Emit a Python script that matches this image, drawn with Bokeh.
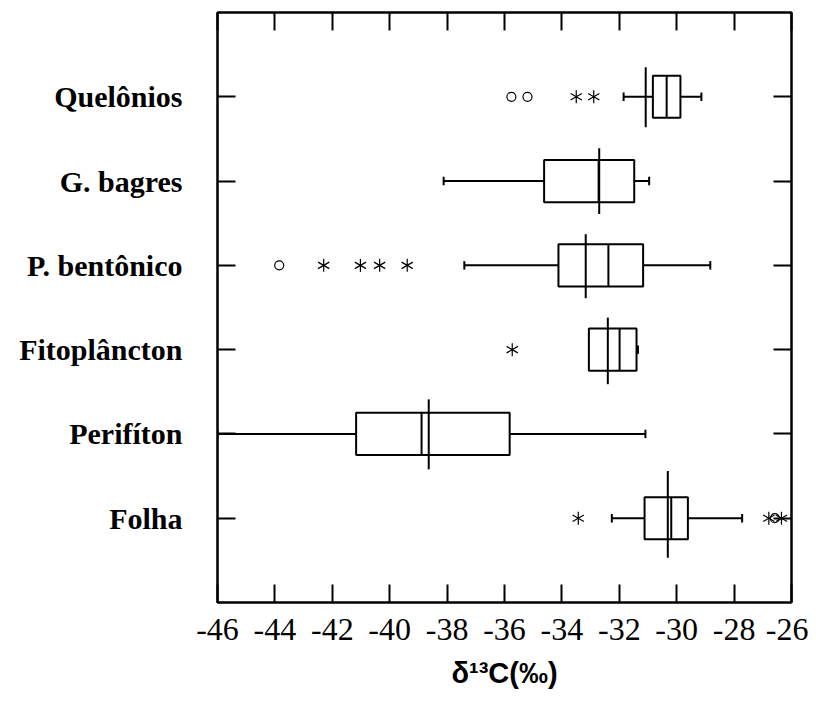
import numpy as np
from bokeh.plotting import figure
from bokeh.models import (ColumnDataSource, Range1d, LinearAxis, FixedTicker)
from bokeh.embed import file_html
from bokeh.resources import INLINE

# ---------------- data ----------------
categories = ["Folha", "Perifíton", "Fitoplâncton", "P. bentônico", "G. bagres", "Quelônios"]
positions = [1, 2, 3, 4, 5, 6]
whisker_low = [-32.26, -46.00, -33.05, -37.40, -38.12, -31.85]
q1 = [-31.12, -41.17, -33.06, -34.12, -34.62, -30.83]
median = [-30.19, -38.89, -31.99, -32.38, -32.72, -30.35]
q3 = [-29.61, -35.82, -31.40, -31.17, -31.48, -29.87]
whisker_high = [-27.72, -31.09, -31.35, -28.83, -30.96, -29.14]
mean = [-30.31, -38.64, -32.40, -33.17, -32.70, -31.08]
mean_bar_low = [0.53, 1.58, 2.59, 3.61, 4.61, 5.64]
mean_bar_high = [1.56, 2.41, 3.38, 4.37, 5.39, 6.35]

circle_x = [-26.58, -43.85, -35.76, -35.20]
circle_y = [1, 4, 6, 6]
star_x = [-33.43, -26.79, -26.35, -35.73, -42.30, -41.02, -40.35, -39.39, -33.50, -32.89]
star_y = [1, 1, 1, 3, 4, 4, 4, 4, 6, 6]

x_ticks = [-46, -44, -42, -40, -38, -36, -34, -32, -30, -28, -26]
x_tick_labels = ["-46", "-44", "-42", "-40", "-38", "-36", "-34", "-32", "-30", "-28", "-26"]
x_title = "δ¹³C(‰)"

# ---------------- figure ----------------
p = figure(width=808, height=694, x_range=Range1d(-46, -26), y_range=Range1d(0, 7),
           output_backend="svg", toolbar_location=None,
           x_axis_type=None, y_axis_type=None,
           min_border_left=217, min_border_right=17, min_border_top=12, min_border_bottom=92)
p.grid.visible = False
p.outline_line_color = "black"
p.outline_line_width = 2
p.background_fill_color = "white"
p.border_fill_color = "white"

TICK_LEN = 18

def make_axis(ticks, overrides, show_labels):
    ax = LinearAxis(ticker=FixedTicker(ticks=ticks))
    ax.major_tick_in = TICK_LEN
    ax.major_tick_out = 0
    ax.minor_tick_line_color = None
    ax.major_tick_line_color = "black"
    ax.major_tick_line_width = 2
    ax.axis_line_color = "black"
    ax.axis_line_width = 2
    ax.major_label_overrides = overrides
    if not show_labels:
        ax.major_label_text_font_size = "0px"
        ax.major_label_standoff = 0
    return ax

xover = {t: s for t, s in zip(x_ticks, x_tick_labels)}
yover = {t: s for t, s in zip(positions, categories)}

bottom = make_axis(x_ticks, xover, True)
bottom.major_label_text_font = "Liberation Serif"
bottom.major_label_text_font_size = "32px"
bottom.major_label_text_color = "black"
bottom.major_label_standoff = 16
bottom.axis_label = x_title
bottom.axis_label_text_font = "Liberation Sans"
bottom.axis_label_text_font_style = "bold"
bottom.axis_label_text_font_size = "29px"
bottom.axis_label_text_color = "black"
bottom.axis_label_standoff = 14
p.add_layout(bottom, "below")

top = make_axis(x_ticks, {t: "" for t in x_ticks}, False)
p.add_layout(top, "above")

left = make_axis(positions, yover, True)
left.major_label_text_font = "Liberation Serif"
left.major_label_text_font_style = "bold"
left.major_label_text_font_size = "30px"
left.major_label_text_color = "black"
left.major_label_standoff = 35
p.add_layout(left, "left")

right = make_axis(positions, {t: "" for t in positions}, False)
p.add_layout(right, "right")

# ---------------- boxes ----------------
BOX_H = 0.5
CAP = 0.05
y = np.array(positions, dtype=float)
src = ColumnDataSource(dict(
    y=y, wlo=whisker_low, q1=q1, med=median, q3=q3, whi=whisker_high, mean=mean,
    mlo=mean_bar_low, mhi=mean_bar_high,
    ylo=y - BOX_H / 2, yhi=y + BOX_H / 2, clo=y - CAP, chi=y + CAP))

LW = 2
p.segment(x0="wlo", y0="y", x1="q1", y1="y", source=src, line_color="black", line_width=LW)
p.segment(x0="q3", y0="y", x1="whi", y1="y", source=src, line_color="black", line_width=LW)
p.segment(x0="wlo", y0="clo", x1="wlo", y1="chi", source=src, line_color="black", line_width=LW)
p.segment(x0="whi", y0="clo", x1="whi", y1="chi", source=src, line_color="black", line_width=LW)
p.quad(left="q1", right="q3", bottom="ylo", top="yhi", source=src,
       fill_color="white", line_color="black", line_width=LW)
p.segment(x0="med", y0="ylo", x1="med", y1="yhi", source=src, line_color="black", line_width=LW)
p.segment(x0="mean", y0="mlo", x1="mean", y1="mhi", source=src, line_color="black", line_width=LW)

# ---------------- outliers ----------------
p.scatter(circle_x, circle_y, marker="circle", size=9, fill_color=None,
          line_color="black", line_width=1.2)
for ang in (np.pi / 2, np.pi / 6, -np.pi / 6):
    p.scatter(star_x, star_y, marker="dash", size=13, angle=ang,
              line_color="black", line_width=1.2)

open("out.html", "w").write(file_html(p, INLINE))
